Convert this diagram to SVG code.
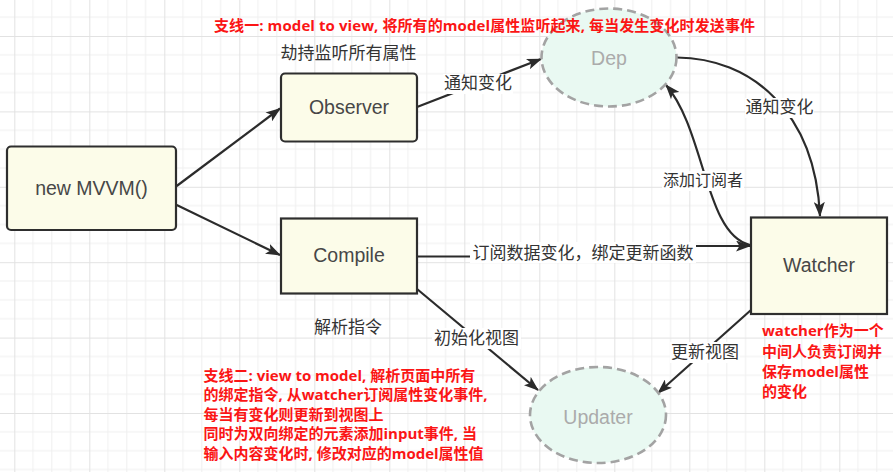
<svg xmlns="http://www.w3.org/2000/svg" width="893" height="472" viewBox="0 0 893 472">
<defs>
<pattern id="grid" patternUnits="userSpaceOnUse" x="14.3" y="36" width="75" height="75.4">
<path d="M18.75,0V75.4M37.5,0V75.4M56.25,0V75.4M0,18.85H75M0,37.7H75M0,56.55H75" stroke="#efefef" stroke-width="1" fill="none"/>
<path d="M0.5,0V75.4M0,0.5H75" stroke="#e2e2e2" stroke-width="1" fill="none"/>
</pattern>
<marker id="arr" viewBox="0 0 15 11" refX="14" refY="5.5" markerWidth="15" markerHeight="11" orient="auto" markerUnits="userSpaceOnUse">
<path d="M0,0 L15,5.5 L0,11 L3.5,5.5 Z" fill="#2b2b2b"/>
</marker>
</defs>
<style>
.box{fill:#fcfce9;stroke:#2e2e2e;stroke-width:2.2}
.ell{fill:#e9f9f2;stroke:#a3a3a3;stroke-width:2.6;stroke-dasharray:9 5}
.nl{font-family:"Liberation Sans",Arial,sans-serif;font-size:19.5px;fill:#474747;text-anchor:middle}
.el{font-family:"Liberation Sans",Arial,sans-serif;font-size:19.5px;fill:#ababab;text-anchor:middle}
.lb{font-family:"Noto Sans CJK SC",sans-serif;font-size:17px;fill:#333;text-anchor:middle}
.red{font-family:"Open Sans","Noto Sans CJK SC",sans-serif;font-size:15px;font-weight:bold;fill:#fb1515}
.edge{fill:none;stroke:#2b2b2b;stroke-width:2.2;marker-end:url(#arr)}
.line{fill:none;stroke:#2b2b2b;stroke-width:2.2}
.bg{fill:#ffffff}
</style>
<rect width="893" height="472" fill="#ffffff"/>
<rect width="893" height="472" fill="url(#grid)"/>

<g id="connectors">
<path class="edge" d="M176.7,186 L280,108.5"/>
<path class="edge" d="M176.7,205 L280,255"/>
<path class="edge" d="M417,107 L541,59"/>
<path class="edge" d="M677,57.5 C750,58 815,110 820,216"/>
<path class="edge" d="M750,245 C705,235 705,130 666,85"/>
<path class="edge" d="M417,256.5 L472,256.5 L694,246 L750,246"/>
<path class="edge" d="M417,289 L538,390"/>
<path class="edge" d="M751,310 L658,393"/>
</g>

<g id="node-mvvm">
<rect class="box" x="7" y="146.5" width="169" height="83.5" rx="4"/>
<text class="nl" x="91.5" y="194.5">new MVVM()</text>
</g>
<g id="node-observer">
<rect class="box" x="281" y="73.5" width="136" height="68" rx="4"/>
<text class="nl" x="349" y="114">Observer</text>
</g>
<g id="node-compile">
<rect class="box" x="281" y="218.5" width="136" height="75"/>
<text class="nl" x="349" y="261.5">Compile</text>
</g>
<g id="node-watcher">
<rect class="box" x="751" y="217.5" width="136" height="96.5"/>
<text class="nl" x="819" y="272">Watcher</text>
</g>
<g id="node-dep">
<ellipse class="ell" cx="609" cy="57.5" rx="67.5" ry="49"/>
<text class="el" x="609" y="64.5">Dep</text>
</g>
<g id="node-updater">
<ellipse class="ell" cx="598" cy="415" rx="68" ry="48"/>
<text class="el" x="598" y="423.5">Updater</text>
</g>

<g id="labels">
<text class="lb" x="348.5" y="58.5">劫持监听所有属性</text>
<rect class="bg" x="443" y="74" width="70" height="20"/>
<text class="lb" x="478" y="89">通知变化</text>
<rect class="bg" x="745" y="98" width="69" height="20"/>
<text class="lb" x="779.5" y="113">通知变化</text>
<rect class="bg" x="662" y="171" width="82" height="20"/>
<text class="lb" x="703" y="186" style="font-size:16px">添加订阅者</text>
<rect class="bg" x="470" y="242" width="226" height="21"/>
<text class="lb" x="583" y="258.5">订阅数据变化，绑定更新函数</text>
<text class="lb" x="348" y="333">解析指令</text>
<rect class="bg" x="432" y="328" width="89" height="21"/>
<text class="lb" x="476.5" y="344">初始化视图</text>
<rect class="bg" x="670" y="342" width="70" height="21"/>
<text class="lb" x="705" y="358">更新视图</text>
</g>

<g id="notes">
<text class="red" x="214" y="30.5" textLength="541">支线一: model to view, 将所有的model属性监听起来, 每当发生变化时发送事件</text>
<text class="red" x="203.5" y="380.5">支线二: view to model, 解析页面中所有</text>
<text class="red" x="203.5" y="400">的绑定指令, 从watcher订阅属性变化事件,</text>
<text class="red" x="203.5" y="419.5">每当有变化则更新到视图上</text>
<text class="red" x="203.5" y="439">同时为双向绑定的元素添加input事件, 当</text>
<text class="red" x="203.5" y="458.5">输入内容变化时, 修改对应的model属性值</text>
<text class="red" x="762" y="335.5">watcher作为一个</text>
<text class="red" x="762" y="356.5">中间人负责订阅并</text>
<text class="red" x="762" y="376.5">保存model属性</text>
<text class="red" x="762" y="397">的变化</text>
</g>
</svg>
